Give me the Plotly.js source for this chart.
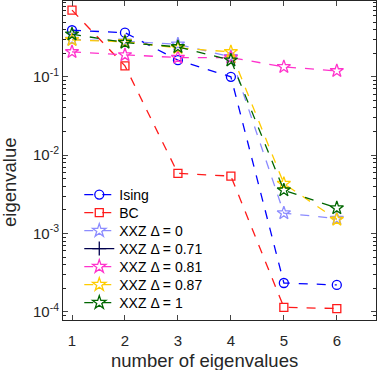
<!DOCTYPE html>
<html>
<head>
<meta charset="utf-8">
<script src="https://cdn.plot.ly/plotly-3.0.1.min.js"></script>
<style>body{margin:0;padding:0;background:#fff;}</style>
</head>
<body>
<div id="plot" style="width:381px;height:370px;"></div>
<script>
var n = [1, 2, 3, 4, 5, 6];

var ising = [0.393, 0.366, 0.163, 0.100, 2.33e-4, 2.2e-4];
var bc = [0.71, 0.138, 5.85e-3, 5.4e-3, 1.14e-4, 1.1e-4];
var xxz_0 = [0.30, 0.285, 0.26, 0.18, 1.82e-3, 1.55e-3];
var xxz_071 = [null, null, null, null, null, null];
var xxz_081 = [0.208, 0.19, 0.176, 0.176, 0.134, 0.119];
var xxz_087 = [0.296, 0.28, 0.234, 0.208, 4.33e-3, 1.5e-3];
var xxz_1 = [0.35, 0.274, 0.241, 0.163, 3.57e-3, 2.11e-3];

var names = ['Ising', 'BC', 'XXZ Δ = 0', 'XXZ Δ = 0.71', 'XXZ Δ = 0.81', 'XXZ Δ = 0.87', 'XXZ Δ = 1'];

// one legend per entry so the rows can sit 18px apart like the original
var legIds = ['legend', 'legend2', 'legend3', 'legend4', 'legend5', 'legend6', 'legend7'];

function mk(i, y, color, symbol, dash, size) {
  return {
    x: n, y: y, name: names[i], legend: legIds[i], type: 'scatter', mode: 'lines+markers',
    line: {color: color, width: 1.3, dash: dash},
    marker: {symbol: symbol, size: size, color: color, line: {color: color, width: 1.3}}
  };
}

var data = [
  mk(0, ising, '#0000ff', 'circle-open', 'dash', 9),
  mk(1, bc, '#ff1a1a', 'square-open', 'dash', 8),
  mk(2, xxz_0, '#8c8cff', 'star-open', 'dash', 10),
  mk(3, xxz_071, '#00004d', 'cross-thin-open', 'solid', 10),
  mk(4, xxz_081, '#ff33cc', 'star-open', 'dash', 10),
  mk(5, xxz_087, '#ffcc00', 'star-open', 'dash', 10),
  mk(6, xxz_1, '#006600', 'star-open', 'dash', 10)
];

var minorVals = [];
for (var e = -5; e <= 0; e++) {
  for (var k = 2; k <= 9; k++) minorVals.push(k * Math.pow(10, e));
}

var layout = {
  width: 381, height: 370,
  margin: {l: 63, r: 5, t: 1, b: 50},
  paper_bgcolor: '#fff', plot_bgcolor: '#fff',
  font: {family: 'Liberation Sans, Arial, sans-serif', color: '#262626'},
  showlegend: true,
  xaxis: {
    range: [0.83, 6.74], tickvals: n, ticks: 'inside', ticklen: 5, ticklabelstandoff: 7,
    showline: true, linecolor: '#262626', linewidth: 1, mirror: 'ticks',
    showgrid: false, zeroline: false, tickfont: {size: 15, color: '#262626'}
  },
  yaxis: {
    type: 'log', range: [-4.105, -0.032],
    tickvals: [1e-4, 1e-3, 1e-2, 1e-1],
    ticktext: ['10<sup>-4</sup>', '10<sup>-3</sup>', '10<sup>-2</sup>', '10<sup>-1</sup>'],
    ticks: 'inside', ticklen: 5,
    minor: {tickvals: minorVals, ticks: 'inside', ticklen: 3, tickcolor: '#262626', showgrid: false},
    showline: true, linecolor: '#262626', linewidth: 1, mirror: 'ticks',
    showgrid: false, zeroline: false, tickfont: {size: 15, color: '#262626'}
  },
  annotations: [
    {text: 'number of eigenvalues', xref: 'paper', yref: 'paper', x: (204 - 63) / 313, y: 0,
      yshift: -40, xanchor: 'center', yanchor: 'middle', showarrow: false, font: {size: 18.5, color: '#262626'}},
    {text: 'eigenvalue', xref: 'paper', yref: 'paper', x: 0, xshift: -54, y: (320 - 182) / 319,
      textangle: -90, xanchor: 'center', yanchor: 'middle', showarrow: false, font: {size: 18.5, color: '#262626'}}
  ]
};

for (var i = 0; i < legIds.length; i++) {
  var yc = 195 + 18 * i;
  layout[legIds[i]] = {
    x: 0.052, y: 1 - (yc - 1) / 319, xanchor: 'left', yanchor: 'middle',
    bgcolor: 'rgba(255,255,255,0)', font: {size: 14, color: '#000'}
  };
}

Plotly.newPlot('plot', data, layout, {staticPlot: true});
</script>
</body>
</html>
